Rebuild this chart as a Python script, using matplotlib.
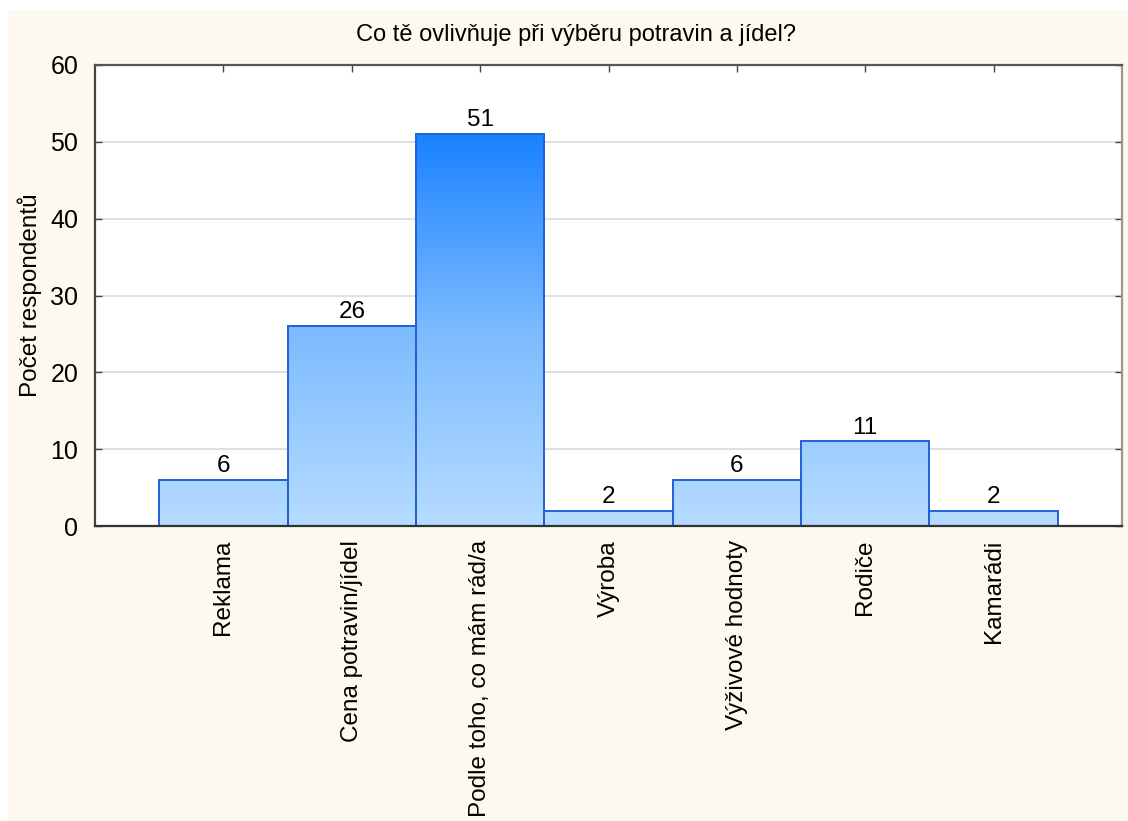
import numpy as np
import matplotlib
matplotlib.use("Agg")
import matplotlib.pyplot as plt
from matplotlib.patches import Rectangle
from matplotlib.colors import LinearSegmentedColormap

categories = ["Reklama", "Cena potravin/jídel", "Podle toho, co mám rád/a", "Výroba",
              "Výživové hodnoty", "Rodiče", "Kamarádi"]
counts = [6, 26, 51, 2, 6, 11, 2]
y_ticks = [0, 10, 20, 30, 40, 50, 60]
title = "Co tě ovlivňuje při výběru potravin a jídel?"
y_label = "Počet respondentů"

plt.rcParams["font.family"] = ["Liberation Sans", "DejaVu Sans"]

W, H, DPI = 1128, 821, 100
fig = plt.figure(figsize=(W / DPI, H / DPI), dpi=DPI)
fig.patch.set_facecolor("white")
# cream panel behind the chart
fig.patches.append(Rectangle((8 / W, 0), 1 - 8 / W, 1 - 10 / H, transform=fig.transFigure,
                             facecolor="#FEF9EE", edgecolor="none", zorder=-10))

ax = fig.add_axes([95 / W, 1 - 526 / H, (1122 - 95) / W, (526 - 65) / H])
ax.set_facecolor("white")

cmap = LinearSegmentedColormap.from_list("bars", ["#B6DCFF", "#7CBBFF", "#1A82FF"])
top = max(counts)
grad = np.linspace(0, 1, 256).reshape(-1, 1)

x = np.arange(len(categories))
bars = ax.bar(x, counts, width=1.0, facecolor="none", edgecolor="#2360D8",
              linewidth=1.4, zorder=3)
for b, v in zip(bars, counts):
    x0 = b.get_x()
    im = ax.imshow(grad, cmap=cmap, extent=(x0, x0 + b.get_width(), 0, top),
                   origin="lower", aspect="auto", zorder=2, vmin=0, vmax=1)
    clip = Rectangle((x0, 0), b.get_width(), v, transform=ax.transData)
    im.set_clip_path(clip)
    ax.annotate(str(v), (b.get_x() + b.get_width() / 2, v), xytext=(0, 2),
                textcoords="offset points", ha="center", va="bottom",
                fontsize=17.5, color="black", zorder=5)
ax.set_xlim(-1, len(categories))
ax.set_ylim(0, 60)

ax.set_yticks(y_ticks)
ax.set_xticks(x)
ax.set_xticklabels(categories, rotation=90, fontsize=17.5)
ax.tick_params(axis="y", labelsize=18, direction="in", length=5, width=1,
               color="#444444", right=True, pad=12)
ax.tick_params(axis="x", direction="in", length=5, width=1, color="#444444",
               top=True, pad=10)
ax.yaxis.grid(True, color="#DDDDDD", linewidth=1.3, zorder=0)
ax.set_axisbelow(True)

ax.spines["left"].set_color("#444444")
ax.spines["bottom"].set_color("#333333")
ax.spines["top"].set_color("#555555")
ax.spines["right"].set_color("#999999")
for s in ax.spines.values():
    s.set_linewidth(1.6)
    s.set_zorder(6)

ax.set_ylabel(y_label, fontsize=17.5, labelpad=6)
fig.text(576 / W, 1 - 35 / H, title, ha="center", va="center", fontsize=17)

fig.savefig("out.png", dpi=DPI, facecolor=fig.get_facecolor())
